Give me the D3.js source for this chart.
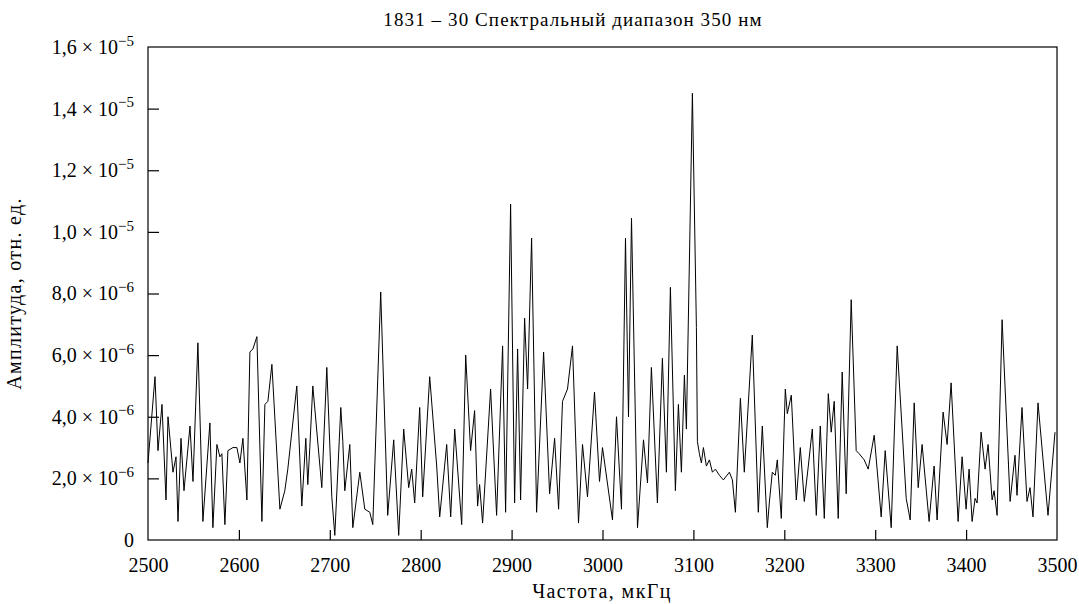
<!DOCTYPE html>
<html><head><meta charset="utf-8">
<script src="https://cdn.jsdelivr.net/npm/d3@7"></script>
<style>body{margin:0;background:#fff}svg{display:block}</style>
</head><body>
<svg id="c" width="1079" height="604"></svg>
<script>
// Frequency, мкГц
const freq = [2500.0,2507.7,2511.0,2515.4,2519.8,2522.0,2527.5,2530.8,2533.0,2536.3,2539.6,2546.2,2549.5,2554.9,2560.4,2568.1,2571.4,2575.8,2579.1,2581.3,2584.6,2587.9,2593.4,2597.8,2601.1,2604.4,2608.8,2612.1,2615.4,2619.8,2625.3,2628.6,2631.9,2636.3,2645.1,2650.5,2653.8,2663.7,2669.2,2673.6,2675.8,2678.0,2681.3,2691.2,2696.7,2702.2,2705.5,2712.1,2714.3,2716.5,2722.0,2725.3,2733.0,2738.5,2744.0,2747.3,2756.0,2763.7,2770.3,2775.8,2781.3,2786.8,2790.1,2793.4,2798.9,2802.2,2809.9,2817.6,2820.9,2828.6,2833.0,2837.4,2845.1,2849.5,2854.9,2859.3,2862.6,2864.8,2868.1,2876.9,2883.5,2890.1,2893.4,2898.9,2903.3,2906.6,2909.9,2914.3,2917.6,2922.0,2927.5,2935.2,2941.8,2947.3,2951.7,2956.0,2961.5,2967.0,2973.6,2978.0,2983.5,2991.2,2996.7,3000.0,3011.0,3015.4,3020.9,3025.3,3028.6,3031.9,3038.5,3045.1,3049.5,3053.8,3060.4,3065.9,3070.3,3074.7,3080.2,3083.5,3086.8,3090.1,3092.3,3098.9,3103.3,3104.4,3106.6,3108.8,3111.0,3114.3,3117.6,3120.9,3124.2,3128.6,3133.0,3139.6,3142.9,3146.2,3151.7,3156.0,3164.8,3171.4,3175.8,3181.3,3183.5,3186.8,3190.1,3192.3,3196.7,3201.1,3203.3,3207.7,3213.2,3217.6,3222.0,3226.4,3230.8,3235.2,3239.6,3244.0,3248.4,3251.6,3254.9,3259.3,3263.7,3268.1,3273.6,3279.1,3282.4,3287.9,3292.3,3298.9,3306.6,3311.0,3317.6,3324.2,3334.1,3338.5,3342.9,3347.3,3351.6,3359.3,3364.8,3368.1,3374.7,3379.1,3383.5,3391.2,3395.6,3400.0,3403.3,3406.6,3409.9,3412.1,3416.5,3420.9,3424.2,3428.6,3430.8,3434.1,3439.6,3448.4,3453.8,3456.0,3461.5,3467.0,3470.3,3473.6,3479.1,3490.1,3497.8];
// Amplitude, units of 1e-6
const amp = [2.5,5.3,2.9,4.4,1.3,4.0,2.2,2.7,0.6,3.3,1.6,3.7,1.9,6.4,0.6,3.8,0.4,3.1,2.7,2.8,0.5,2.9,3.0,3.0,2.5,3.3,1.3,6.1,6.2,6.6,0.6,4.4,4.5,5.7,1.0,1.6,2.3,5.0,1.1,3.3,1.8,3.0,5.0,1.7,5.6,1.4,0.15,4.3,3.2,1.6,3.1,0.4,2.2,1.0,0.9,0.5,8.05,0.8,3.25,0.15,3.6,1.7,2.3,1.2,4.3,1.4,5.3,2.4,0.75,3.1,0.75,3.6,0.5,6.0,2.9,4.2,1.1,1.8,0.55,4.9,0.8,6.3,0.9,10.9,1.2,6.2,1.3,7.2,4.9,9.8,0.9,6.1,1.5,3.3,1.0,4.5,4.9,6.3,0.55,3.1,1.4,4.8,1.9,3.0,0.65,4.0,1.0,9.8,4.0,10.45,0.4,3.25,1.85,5.6,1.2,5.9,2.2,8.2,1.6,4.4,2.2,5.35,3.6,14.5,6.9,3.2,2.8,2.5,3.0,2.4,2.6,2.2,2.3,2.1,1.95,2.2,1.95,0.9,4.6,2.2,6.65,0.9,3.7,0.4,1.2,2.2,2.1,2.6,0.7,4.9,4.1,4.7,1.3,3.0,1.25,2.4,3.6,0.8,3.7,0.7,4.75,3.5,4.5,0.7,5.45,1.5,7.8,2.9,2.8,2.6,2.3,3.4,0.75,2.9,0.4,6.3,1.35,0.65,4.45,1.7,3.1,0.6,2.4,0.65,4.15,3.1,5.1,0.6,2.7,1.0,2.3,0.6,1.35,1.2,3.5,2.3,3.1,1.3,1.6,0.8,7.15,1.25,2.75,1.45,4.3,1.25,1.7,0.75,4.45,0.8,3.5];

const xTicks = [2500,2600,2700,2800,2900,3000,3100,3200,3300,3400,3500];
const yTicks = [0,2,4,6,8,10,12,14,16];
const yMant = ["0","2,0","4,0","6,0","8,0","1,0","1,2","1,4","1,6"];
const yExp  = ["","−6","−6","−6","−6","−5","−5","−5","−5"];
const title = "1831 – 30 Спектральный диапазон 350 нм";
const xTitle = "Частота, мкГц";
const yTitle = "Амплитуда, отн. ед.";

const svg = d3.select("#c");
const L = 148, R = 1057, T = 47, B = 540;
const x = d3.scaleLinear().domain([2500,3500]).range([L,R]);
const y = d3.scaleLinear().domain([0,16]).range([B,T]);
const font = "'Liberation Serif', 'Times New Roman', serif";

// frame
svg.append("rect").attr("x",L).attr("y",T).attr("width",R-L).attr("height",B-T)
  .attr("fill","none").attr("stroke","#000").attr("stroke-width",1.2);

// data line
const pts = freq.map((f,i)=>[f,amp[i]]);
svg.append("path").datum(pts)
  .attr("d", d3.line().x(d=>x(d[0])).y(d=>y(d[1])))
  .attr("fill","none").attr("stroke","#000").attr("stroke-width",1);

// x axis
const gx = svg.append("g").attr("transform",`translate(0,${B})`)
  .call(d3.axisBottom(x).tickValues(xTicks).tickSizeInner(-10).tickSizeOuter(0).tickPadding(18).tickFormat(d3.format("d")));
gx.select(".domain").remove();
gx.selectAll(".tick line").attr("stroke","#000").attr("stroke-width",1.2);
gx.selectAll(".tick text").attr("font-family",font).attr("font-size",20).attr("fill","#000");
gx.selectAll(".tick").filter(d=>d===2500||d===3500).select("line").remove();

// y axis
const gy = svg.append("g").attr("transform",`translate(${L},0)`)
  .call(d3.axisLeft(y).tickValues(yTicks).tickSizeInner(-11).tickSizeOuter(0).tickPadding(14).tickFormat(()=>""));
gy.select(".domain").remove();
gy.selectAll(".tick line").attr("stroke","#000").attr("stroke-width",1.2);
gy.selectAll(".tick").filter(d=>d===0||d===16).select("line").remove();
gy.selectAll(".tick text").each(function(d,i){
  const t = d3.select(this).attr("font-family",font).attr("font-size",20).attr("fill","#000");
  const k = yTicks.indexOf(d);
  if (yExp[k]==="") { t.text(yMant[k]); return; }
  t.append("tspan").text(yMant[k] + " × 10");
  t.append("tspan").attr("font-size",15).attr("dy","-0.55em").text(yExp[k]);
});

// titles
svg.append("text").attr("x",573).attr("y",26).attr("text-anchor","middle")
  .attr("font-family",font).attr("font-size",19).attr("letter-spacing",1.1).text(title);
svg.append("text").attr("x",602).attr("y",598).attr("text-anchor","middle")
  .attr("font-family",font).attr("font-size",20).attr("letter-spacing",1.4).text(xTitle);
svg.append("text").attr("transform",`translate(21,${(T+B)/2}) rotate(-90)`).attr("text-anchor","middle")
  .attr("font-family",font).attr("font-size",20).attr("letter-spacing",1.3).text(yTitle);
</script>
</body></html>
